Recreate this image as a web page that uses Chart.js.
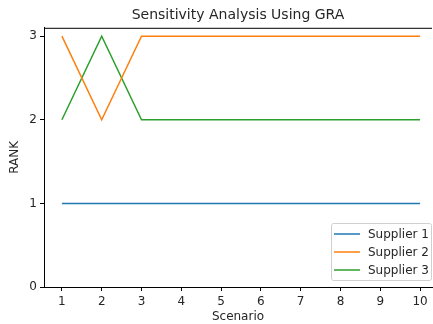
<!DOCTYPE html>
<html>
<head>
<meta charset="utf-8">
<script src="https://cdn.jsdelivr.net/npm/chart.js@4"></script>
<style>
  html, body { margin: 0; padding: 0; background: #fff; }
  #wrap { width: 433px; height: 324px; }
</style>
</head>
<body>
<div id="wrap"><canvas id="myChart" width="433" height="324"></canvas></div>
<script>
const scenarios = [1, 2, 3, 4, 5, 6, 7, 8, 9, 10];
const supplier1 = [1, 1, 1, 1, 1, 1, 1, 1, 1, 1];
const supplier2 = [3, 2, 3, 3, 3, 3, 3, 3, 3, 3];
const supplier3 = [2, 3, 2, 2, 2, 2, 2, 2, 2, 2];
const yTicks = [0, 1, 2, 3];

const FONT = "'DejaVu Sans', sans-serif";
const TXT = '#262626';

function toPoints(vals) {
    return scenarios.map((s, i) => ({ x: s, y: vals[i] }));
}

// legend box in lower right + top spine
const framePlugin = {
    id: 'frame',
    afterDraw(chart) {
        const ctx = chart.ctx;
        const a = chart.chartArea;
        ctx.save();
        ctx.strokeStyle = '#000';
        ctx.lineWidth = 1;
        ctx.beginPath();
        ctx.moveTo(a.left, a.top + 0.5);
        ctx.lineTo(a.right, a.top + 0.5);
        ctx.stroke();

        const bx = 331.5, by = 223.5, bw = 100, bh = 57;
        ctx.fillStyle = 'rgba(255,255,255,0.8)';
        ctx.strokeStyle = '#d0d0d0';
        ctx.beginPath();
        ctx.roundRect(bx, by, bw, bh, 2);
        ctx.fill();
        ctx.stroke();

        ctx.font = '12px ' + FONT;
        ctx.textBaseline = 'middle';
        chart.data.datasets.forEach((ds, i) => {
            const y = 234 + i * 18;
            ctx.strokeStyle = ds.borderColor;
            ctx.lineWidth = 1.5;
            ctx.beginPath();
            ctx.moveTo(334, y);
            ctx.lineTo(360, y);
            ctx.stroke();
            ctx.fillStyle = TXT;
            ctx.fillText(ds.label, 368, y + 1);
        });
        ctx.restore();
    }
};

const ctx = document.getElementById('myChart').getContext('2d');
const myChart = new Chart(ctx, {
    type: 'line',
    data: {
        datasets: [
            { label: 'Supplier 1', data: toPoints(supplier1), borderColor: '#1f77b4' },
            { label: 'Supplier 2', data: toPoints(supplier2), borderColor: '#ff7f0e' },
            { label: 'Supplier 3', data: toPoints(supplier3), borderColor: '#2ca02c' },
        ],
    },
    options: {
        responsive: false,
        animation: false,
        layout: { padding: { left: 0, right: 1, top: 0, bottom: 0 } },
        elements: {
            line: { borderWidth: 1.5, tension: 0, fill: false },
            point: { radius: 0 },
        },
        plugins: {
            legend: { display: false },
            tooltip: { enabled: false },
            title: {
                display: true,
                text: 'Sensitivity Analysis Using GRA',
                fullSize: false,
                color: TXT,
                font: { family: FONT, size: 14, weight: 'normal' },
                padding: { top: 7, bottom: 4 },
            },
        },
        scales: {
            x: {
                type: 'linear',
                position: 'bottom',
                min: 0.55,
                max: 10.3,
                afterBuildTicks: s => { s.ticks = scenarios.map(v => ({ value: v })); },
                afterFit: s => { s.height = 37; },
                ticks: { color: TXT, font: { family: FONT, size: 12 }, padding: 4, maxRotation: 0 },
                grid: { drawOnChartArea: false, tickLength: 4, color: '#000' },
                border: { display: true, color: '#000', width: 1 },
                title: {
                    display: true, text: 'Scenario', color: TXT,
                    font: { family: FONT, size: 12 }, padding: { top: 0, bottom: 0 },
                },
            },
            y: {
                min: 0,
                max: 3.1,
                afterBuildTicks: s => { s.ticks = yTicks.map(v => ({ value: v })); },
                afterFit: s => { s.width = 44; },
                ticks: { color: TXT, font: { family: FONT, size: 12 }, padding: 3 },
                grid: { drawOnChartArea: false, tickLength: 4, color: '#000' },
                border: { display: true, color: '#000', width: 1 },
                title: {
                    display: true, text: 'RANK', color: TXT,
                    font: { family: FONT, size: 12 }, padding: { top: 8, bottom: 0 },
                },
            },
        },
    },
    plugins: [framePlugin],
});
</script>
</body>
</html>
